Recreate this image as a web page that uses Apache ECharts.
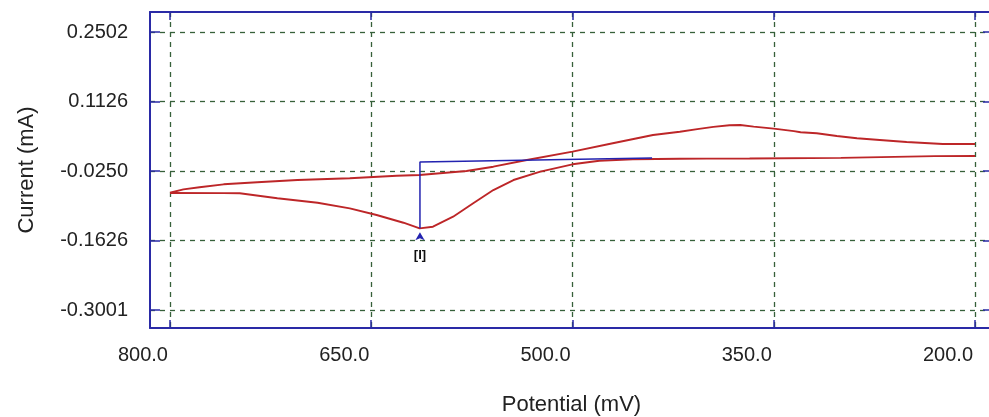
<!DOCTYPE html>
<html>
<head>
<meta charset="utf-8">
<script src="https://cdn.jsdelivr.net/npm/echarts@6/dist/echarts.min.js"></script>
<style>
  html, body { margin: 0; padding: 0; background: #ffffff; }
  #chart { width: 989px; height: 417px; }
</style>
</head>
<body>
<div id="chart"></div>
<script>
// Cathodic sweep (800 -> 200 mV), contains reduction peak [I]
const sweepDownPotential = [800, 760, 748, 720, 690, 666, 646, 626, 616, 614, 604, 589, 574, 559, 544, 524, 500, 480, 455, 420, 400, 368, 300, 260, 230, 200];
const sweepDownCurrent   = [-0.0685, -0.0688, -0.0691, -0.0790, -0.0877, -0.0988, -0.1120, -0.1273, -0.1364, -0.1384, -0.1352, -0.1154, -0.0889, -0.0626, -0.0428, -0.0263, -0.0117, -0.0046, -0.0018, -0.0006, -0.0004, -0.0002, 0.0010, 0.0030, 0.0045, 0.0048];

// Anodic sweep (200 -> 800 mV)
const sweepUpPotential = [200, 224, 251, 271, 288, 303, 318, 330, 335, 350, 365, 375, 383, 395, 407, 420, 440, 470, 500, 534, 559, 579, 614, 631, 666, 705, 735, 760, 778, 790, 800];
const sweepUpCurrent   = [0.0285, 0.0285, 0.0325, 0.0364, 0.0398, 0.0443, 0.0497, 0.0517, 0.0540, 0.0590, 0.0630, 0.0660, 0.0655, 0.0625, 0.0580, 0.0528, 0.0463, 0.0299, 0.0133, -0.0032, -0.0164, -0.0250, -0.0329, -0.0343, -0.0394, -0.0428, -0.0473, -0.0513, -0.0572, -0.0612, -0.0679];

// Peak [I] and its baseline
const peakPotential = 613.7;
const peakCurrent = -0.1384;
const baselinePotential = [613.7, 440.7];
const baselineCurrent = [-0.0071, 0.0006];
const peakLabel = '[I]';

// Axis ticks
const potentialTicks = [800, 650, 500, 350, 200];
const currentTicks = [0.2502, 0.1126, -0.0250, -0.1626, -0.3001];
const potentialRange = [186.6, 814.9];
const currentRange = [-0.3357, 0.2898];

const frameColor = '#2a2aa6';
const gridColor = '#36603a';
const curveColor = '#bd2628';
const markColor = '#2323b0';
const textColor = '#222222';
const fontFamily = '"Liberation Sans", Arial, sans-serif';

const pairs = (xs, ys) => xs.map((x, i) => [x, ys[i]]);

function xAxisCfg(pos, main) {
  return {
    type: 'value',
    position: pos,
    inverse: true,
    min: potentialRange[0],
    max: potentialRange[1],
    name: main ? 'Potential (mV)' : '',
    nameLocation: 'middle',
    nameGap: 66,
    nameTextStyle: { fontSize: 22, color: textColor, fontFamily },
    axisLine: { show: true, onZero: false, lineStyle: { color: frameColor, width: 2 } },
    axisTick: { show: true, inside: true, length: 8, customValues: potentialTicks, lineStyle: { color: frameColor, width: 1.5 } },
    axisLabel: {
      show: main,
      customValues: potentialTicks,
      formatter: v => v.toFixed(1),
      align: 'right',
      padding: [0, 2, 0, 0],
      margin: 17,
      fontSize: 20,
      color: textColor,
      fontFamily
    },
    splitLine: main ? { show: true, lineStyle: { color: gridColor, type: [5, 5], width: 1.3 } } : { show: false }
  };
}

function yAxisCfg(pos, main) {
  return {
    type: 'value',
    position: pos,
    min: currentRange[0],
    max: currentRange[1],
    name: main ? 'Current (mA)' : '',
    nameLocation: 'middle',
    nameGap: 112,
    nameRotate: 90,
    nameTextStyle: { fontSize: 22, color: textColor, fontFamily },
    axisLine: { show: true, onZero: false, lineStyle: { color: frameColor, width: 2 } },
    axisTick: { show: true, inside: true, length: 10, customValues: currentTicks, lineStyle: { color: frameColor, width: 1.5 } },
    axisLabel: {
      show: main,
      customValues: currentTicks,
      formatter: v => v.toFixed(4),
      margin: 22,
      fontSize: 20,
      color: textColor,
      fontFamily
    },
    splitLine: main ? { show: true, lineStyle: { color: gridColor, type: [5, 5], width: 1.3 } } : { show: false }
  };
}

const chart = echarts.init(document.getElementById('chart'), null, { renderer: 'canvas' });
chart.setOption({
  backgroundColor: '#ffffff',
  animation: false,
  // the plot frame runs a few pixels past the right edge of the canvas
  grid: { left: 150, width: 843, top: 12, height: 316, containLabel: false, outerBoundsMode: 'none' },
  xAxis: [xAxisCfg('bottom', true), xAxisCfg('top', false)],
  yAxis: [yAxisCfg('left', true), yAxisCfg('right', false)],
  series: [
    {
      type: 'line',
      data: pairs(sweepDownPotential, sweepDownCurrent),
      showSymbol: false,
      symbol: 'none',
      lineStyle: { color: curveColor, width: 1.9 },
      z: 3
    },
    {
      type: 'line',
      data: pairs(sweepUpPotential, sweepUpCurrent),
      showSymbol: false,
      symbol: 'none',
      lineStyle: { color: curveColor, width: 1.9 },
      z: 3
    },
    {
      type: 'line',
      data: [[peakPotential, peakCurrent]].concat(pairs(baselinePotential, baselineCurrent)),
      showSymbol: false,
      symbol: 'none',
      lineStyle: { color: markColor, width: 1.5 },
      z: 4,
      markPoint: {
        silent: true,
        data: [{ coord: [peakPotential, peakCurrent] }],
        symbol: 'arrow',
        symbolSize: [7, 8],
        symbolOffset: [0, 4],
        itemStyle: { color: markColor },
        label: {
          show: true,
          position: 'bottom',
          distance: 9,
          formatter: peakLabel,
          fontSize: 13,
          fontWeight: 'bold',
          color: '#111111',
          fontFamily
        }
      }
    }
  ]
});
</script>
</body>
</html>
